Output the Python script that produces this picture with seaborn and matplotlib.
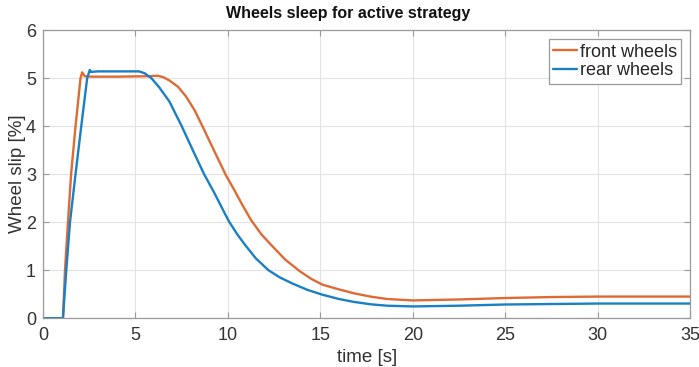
import matplotlib
matplotlib.use("Agg")
import matplotlib.pyplot as plt
import seaborn as sns
import pandas as pd

# Front wheels (orange)
t_front = [0, 1.08, 1.19, 1.35, 1.52, 1.76, 2.03, 2.12, 2.25, 2.6, 4.0, 5.8, 6.2, 6.5,
           6.84, 7.3, 7.73, 8.2, 8.62, 9.3, 9.9, 10.3, 10.75, 11.24, 11.8, 12.45, 13.1,
           13.88, 14.5, 15.1, 16.0, 16.8, 17.7, 18.6, 20.0, 22.5, 25.0, 27.5, 30.0, 35.0]
front = [0, 0, 1.0, 2.0, 3.0, 4.0, 5.0, 5.12, 5.04, 5.03, 5.03, 5.04, 5.05, 5.02,
         4.95, 4.82, 4.62, 4.33, 4.0, 3.45, 2.97, 2.7, 2.38, 2.05, 1.75, 1.48, 1.22,
         0.98, 0.82, 0.7, 0.6, 0.52, 0.45, 0.4, 0.37, 0.39, 0.42, 0.44, 0.45, 0.45]

# Rear wheels (blue)
t_rear = [0, 1.08, 1.26, 1.46, 1.76, 2.07, 2.39, 2.53, 2.6, 3.0, 5.2, 5.5, 5.86, 6.3,
          6.84, 7.5, 8.1, 8.71, 9.25, 9.78, 10.05, 10.5, 10.94, 11.5, 12.19, 12.8, 13.5,
          14.3, 15.1, 16.0, 16.8, 17.7, 18.6, 20.0, 22.5, 25.0, 30.0, 35.0]
rear = [0, 0, 1.0, 2.0, 3.0, 4.0, 5.0, 5.17, 5.13, 5.14, 5.14, 5.1, 5.0, 4.8,
        4.51, 4.0, 3.5, 3.0, 2.62, 2.22, 2.02, 1.75, 1.52, 1.25, 1.0, 0.85, 0.72,
        0.59, 0.49, 0.4, 0.34, 0.29, 0.26, 0.245, 0.26, 0.285, 0.305, 0.305]

series_names = ["front wheels", "rear wheels"]
colors = ["#DE6A36", "#1A80C4"]

df = pd.concat([
    pd.DataFrame({"time": t_front, "slip": front, "series": series_names[0]}),
    pd.DataFrame({"time": t_rear, "slip": rear, "series": series_names[1]}),
], ignore_index=True)

sns.set_style("white")
plt.rcParams["font.family"] = ["Liberation Sans", "DejaVu Sans"]

fig = plt.figure(figsize=(6.99, 3.67), dpi=100)
ax = fig.add_axes([0.0615, 0.133, 0.926, 0.785])

sns.lineplot(data=df, x="time", y="slip", hue="series", hue_order=series_names,
             palette=colors, sort=False, estimator=None, linewidth=1.7, ax=ax)

ax.set_xlim(0, 35)
ax.set_ylim(0, 6)
ax.set_xticks([0, 5, 10, 15, 20, 25, 30, 35])
ax.set_yticks([0, 1, 2, 3, 4, 5, 6])
ax.grid(True, color="#e3e3e3", linewidth=0.8)
ax.set_axisbelow(True)
for s in ax.spines.values():
    s.set_visible(True)
    s.set_color("#9a9a9a")
    s.set_linewidth(0.9)
ax.tick_params(direction="in", length=4, color="#9a9a9a", labelsize=13,
               labelcolor="#333333", top=True, right=True, bottom=True, left=True, pad=6)
ax.tick_params(axis="y", pad=5)
ax.set_xlabel("time [s]", fontsize=13.5, color="#333333", labelpad=4)
ax.set_ylabel("Wheel slip [%]", fontsize=13.5, color="#333333", labelpad=0)
ax.set_title("Wheels sleep for active strategy", fontsize=11.5, fontweight="bold",
             color="#111111", pad=9, x=0.471)

leg = ax.legend(loc="upper right", fontsize=13, frameon=True, fancybox=False,
                edgecolor="#9a9a9a", framealpha=1, handlelength=1.3, handletextpad=0.15,
                borderpad=0.25, labelspacing=0.1, borderaxespad=0.5)
leg.get_frame().set_linewidth(0.9)
for line in leg.get_lines():
    line.set_linewidth(1.7)

fig.savefig("out.png", dpi=100, facecolor="white")
